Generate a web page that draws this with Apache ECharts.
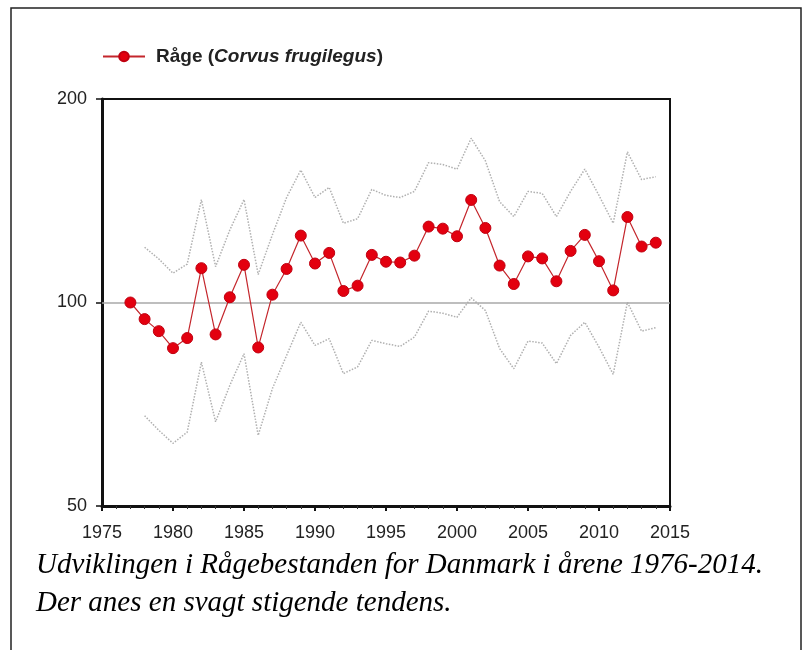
<!DOCTYPE html>
<html>
<head>
<meta charset="utf-8">
<script src="https://cdn.jsdelivr.net/npm/echarts@6/dist/echarts.min.js"></script>
<style>
html,body{margin:0;padding:0;background:#fff;}
#chart{width:805px;height:650px;}
</style>
</head>
<body>
<div id="chart"></div>
<script>
// Data
const years = [1977,1978,1979,1980,1981,1982,1983,1984,1985,1986,1987,1988,1989,1990,1991,1992,1993,1994,1995,1996,1997,1998,1999,2000,2001,2002,2003,2004,2005,2006,2007,2008,2009,2010,2011,2012,2013,2014];
const indexValues = [100,94.5,90.7,85.6,88.6,112.4,89.7,101.8,113.7,85.8,102.7,112.1,125.6,114.2,118.4,104.0,105.9,117.6,114.9,114.6,117.3,129.5,128.6,125.3,141.8,128.9,113.4,106.5,117.0,116.2,107.5,119.2,125.9,115.1,104.2,133.8,121.0,122.6];
const bandYears = [1978,1979,1980,1981,1982,1983,1984,1985,1986,1987,1988,1989,1990,1991,1992,1993,1994,1995,1996,1997,1998,1999,2000,2001,2002,2003,2004,2005,2006,2007,2008,2009,2010,2011,2012,2013,2014];
const upperValues = [120.7,116,110.5,114,142,113,128,142,110,126,143,157,143,148,131,133,147,144,143,146,161,160,157.5,175,162,141,134,146,145,134,146,157.5,144,131,167,152,153.5];
const lowerValues = [68,64.7,61.9,64.3,81.6,66.6,75.4,84,63.6,74.6,83.5,93.5,86.4,88.4,78.5,80.3,87.9,86.9,86.1,88.9,97.1,96.4,95.1,101.6,97.3,85.5,79.8,87.7,87.1,81.2,89.4,93.5,85.9,78.3,100.1,90.7,91.8];
const yTicks = [50,100,200];
const seriesName = 'Råge (Corvus frugilegus)';
const captionLines = ['Udviklingen i Rågebestanden for Danmark i årene 1976-2014.', 'Der anes en svagt stigende tendens.'];

const pair = (xs, ys) => xs.map((x, i) => [x, ys[i]]);
const chart = echarts.init(document.getElementById('chart'), null, {renderer: 'canvas'});
const sans = 'Liberation Sans, Arial, sans-serif';

chart.setOption({
  backgroundColor: '#ffffff',
  animation: false,
  graphic: [{
    type: 'rect', z: -10, silent: true,
    shape: {x: 11, y: 8, width: 790, height: 660},
    style: {fill: 'none', stroke: '#222', lineWidth: 1.5}
  }],
  title: {
    text: captionLines.join('\n'),
    left: 31, top: 541,
    textStyle: {fontFamily: 'Liberation Serif, Times New Roman, serif', fontStyle: 'italic', fontWeight: 'normal', fontSize: 29, lineHeight: 38, color: '#000'}
  },
  legend: {
    left: 97, top: 42,
    itemWidth: 42, itemHeight: 12, itemGap: 10,
    data: [seriesName],
    formatter: () => '{s|}{b|Råge (}{i|Corvus frugilegus}{b|)}',
    textStyle: {
      rich: {
        s: {width: 6},
        b: {fontFamily: sans, fontWeight: 'bold', fontSize: 19, color: '#222'},
        i: {fontFamily: sans, fontWeight: 'bold', fontStyle: 'italic', fontSize: 19, color: '#222'}
      }
    }
  },
  grid: {left: 102, right: 135, top: 99, bottom: 144, show: true, borderColor: '#111', borderWidth: 2, containLabel: false},
  xAxis: {
    type: 'value', min: 1975, max: 2015, interval: 5,
    axisLine: {show: true, onZero: false, lineStyle: {color: '#111', width: 3}},
    axisTick: {show: true, length: 5, lineStyle: {color: '#111', width: 2}},
    minorTick: {show: true, splitNumber: 5, length: 3, lineStyle: {color: '#333', width: 1}},
    splitLine: {show: false},
    axisLabel: {fontFamily: sans, fontSize: 18, color: '#222', margin: 18, formatter: v => String(v)}
  },
  yAxis: {
    type: 'log', logBase: 2, min: 50, max: 200,
    axisLine: {show: true, lineStyle: {color: '#111', width: 3}},
    axisTick: {show: true, length: 6, customValues: yTicks, lineStyle: {color: '#111', width: 1.5}},
    axisLabel: {fontFamily: sans, fontSize: 18, color: '#222', margin: 15, customValues: yTicks},
    splitLine: {show: false},
    minorTick: {show: false}
  },
  series: [
    {
      name: 'upper', type: 'line', data: pair(bandYears, upperValues),
      showSymbol: false, symbol: 'none', z: 1, silent: true,
      lineStyle: {color: '#b0b0b0', width: 1.5, type: 'dotted'},
      markLine: {
        silent: true, symbol: 'none', label: {show: false},
        lineStyle: {color: '#a8a8a8', width: 1.5, type: 'solid'},
        data: [{yAxis: 100}]
      }
    },
    {
      name: 'lower', type: 'line', data: pair(bandYears, lowerValues),
      showSymbol: false, symbol: 'none', z: 1, silent: true,
      lineStyle: {color: '#b0b0b0', width: 1.5, type: 'dotted'}
    },
    {
      name: seriesName, type: 'line', data: pair(years, indexValues), z: 5,
      symbol: 'circle', symbolSize: 11,
      lineStyle: {color: '#c4262c', width: 1.2},
      itemStyle: {color: '#e3000f', borderColor: '#c00010', borderWidth: 1}
    }
  ]
});
</script>
</body>
</html>
